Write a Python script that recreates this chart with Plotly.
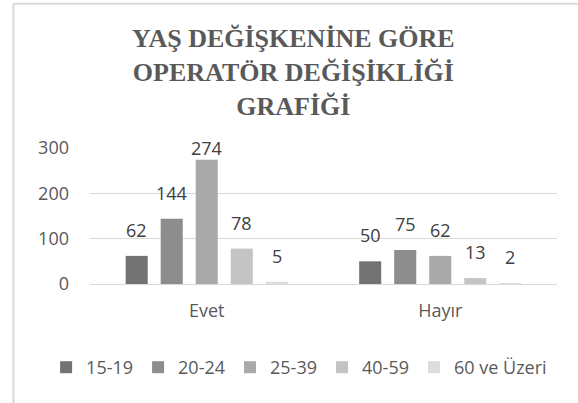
import plotly.graph_objects as go

categories = ["Evet", "Hayır"]
series_names = ["15-19", "20-24", "25-39", "40-59", "60 ve Üzeri"]
values = {
    "15-19": [62, 50],
    "20-24": [144, 75],
    "25-39": [274, 62],
    "40-59": [78, 13],
    "60 ve Üzeri": [5, 2],
}
colors = ["#727272", "#8d8d8d", "#a9a9a9", "#c4c4c4", "#dcdcdc"]
y_ticks = [0, 100, 200, 300]
y_max = 300

FONT = "Open Sans"
TXT = "#595959"
PLOT_H = 136      # plot area height in px
BAR_STEP = 35     # px between neighbouring bars in a group
LABEL_LIFT = 26   # px from bar top to label centre

fig = go.Figure()
annotations = []
n = len(series_names)
for i, (name, col) in enumerate(zip(series_names, colors)):
    fig.add_trace(go.Bar(
        x=categories, y=values[name], name=name,
        marker=dict(color=col, line=dict(width=0)),
    ))
    for cat, v in zip(categories, values[name]):
        lift = min(LABEL_LIFT, (y_max - v) * PLOT_H / y_max)
        annotations.append(dict(
            x=cat, y=v, xref="x", yref="y", text=str(v), showarrow=False,
            xshift=(i - (n - 1) / 2) * BAR_STEP, yshift=lift,
            xanchor="center", yanchor="middle",
            font=dict(family=FONT, size=18, color="#404040"),
        ))

annotations.append(dict(
    text="<b>YAŞ DEĞİŞKENİNE GÖRE<br>OPERATÖR DEĞİŞİKLİĞİ<br>GRAFİĞİ</b>",
    xref="paper", yref="paper", x=0.435, y=1.555, xanchor="center", yanchor="middle",
    showarrow=False, font=dict(family="Liberation Serif", size=26, color=TXT),
))

fig.update_layout(
    width=578, height=403,
    margin=dict(l=90, r=21, t=148, b=119),
    paper_bgcolor="white", plot_bgcolor="white",
    barmode="group", bargap=0.25, bargroupgap=0.37,
    showlegend=True, hovermode=False,
    legend=dict(orientation="h", x=-0.094, xanchor="left", y=-0.614, yanchor="middle",
                font=dict(family=FONT, size=18, color=TXT), itemwidth=30,
                traceorder="normal"),
    xaxis=dict(showgrid=False, showline=False, ticks="", ticklabelstandoff=14,
               tickfont=dict(family=FONT, size=18, color=TXT)),
    yaxis=dict(range=[0, y_max], tickvals=y_ticks, showgrid=True, gridcolor="#d9d9d9",
               gridwidth=1, zeroline=True, zerolinecolor="#d9d9d9", zerolinewidth=1,
               showline=False, ticks="", ticklabelstandoff=20,
               tickfont=dict(family=FONT, size=18, color=TXT)),
    annotations=annotations,
    shapes=[
        dict(type="line", xref="paper", yref="paper", x0=-0.164, x1=-0.164, y0=2.06, y1=-0.9,
             line=dict(color="#d9d9d9", width=2)),
        dict(type="line", xref="paper", yref="paper", x0=-0.164, x1=1.06, y0=2.06, y1=2.06,
             line=dict(color="#d9d9d9", width=2)),
    ],
)

fig.write_html("out.html", config={"displayModeBar": False},
               post_script="document.body.style.margin='0';document.body.style.overflow='hidden';")
